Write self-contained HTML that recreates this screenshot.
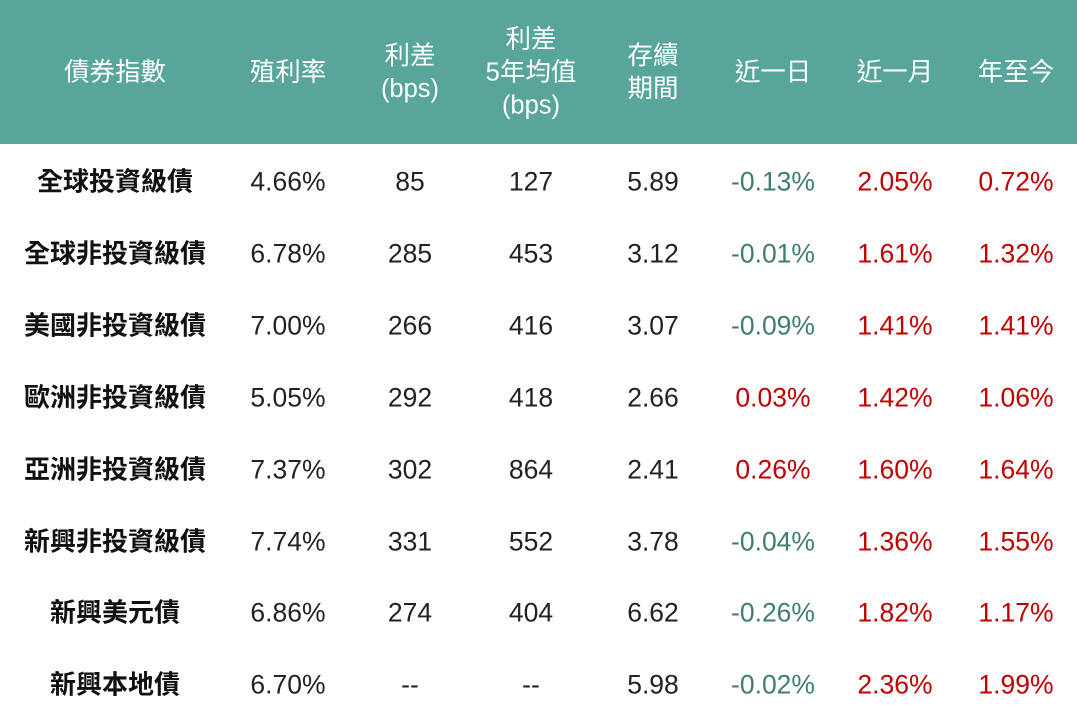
<!DOCTYPE html>
<html><head><meta charset="utf-8"><style>
body{margin:0;width:1077px;height:718px;background:#fff;position:relative;overflow:hidden;font-family:"Liberation Sans","Noto Sans CJK TC",sans-serif}
.h{position:absolute;left:0;top:0;width:1077px;height:144px;background:#58a59b}
.t{position:absolute;transform:translate(-50%,-50%);white-space:nowrap;text-align:center}
.hd{color:#fff;font-size:25.5px;line-height:33px}
.c{font-size:26.5px;color:#222}
.n{font-weight:bold;font-size:26px;color:#111}
.g{color:#3f7d72}.r{color:#c00000}
</style></head><body><div class="h"></div>
<div class="t hd" style="left:115px;top:73px">債券指數</div>
<div class="t hd" style="left:288px;top:73px">殖利率</div>
<div class="t hd" style="left:410px;top:73px">利差<br>(bps)</div>
<div class="t hd" style="left:531px;top:73px">利差<br>5年均值<br>(bps)</div>
<div class="t hd" style="left:653px;top:73px">存續<br>期間</div>
<div class="t hd" style="left:773px;top:73px">近一日</div>
<div class="t hd" style="left:895px;top:73px">近一月</div>
<div class="t hd" style="left:1016px;top:73px">年至今</div>
<script>
var d=[["全球投資級債","4.66%","85","127","5.89","-0.13%","2.05%","0.72%"],
["全球非投資級債","6.78%","285","453","3.12","-0.01%","1.61%","1.32%"],
["美國非投資級債","7.00%","266","416","3.07","-0.09%","1.41%","1.41%"],
["歐洲非投資級債","5.05%","292","418","2.66","0.03%","1.42%","1.06%"],
["亞洲非投資級債","7.37%","302","864","2.41","0.26%","1.60%","1.64%"],
["新興非投資級債","7.74%","331","552","3.78","-0.04%","1.36%","1.55%"],
["新興美元債","6.86%","274","404","6.62","-0.26%","1.82%","1.17%"],
["新興本地債","6.70%","--","--","5.98","-0.02%","2.36%","1.99%"]];
var xs=[115,288,410,531,653,773,895,1016],h="";
d.forEach(function(r,i){var y=181+i*71.9;r.forEach(function(v,j){var cl=j==0?"n":"c";if(j>=5)cl+=v[0]=="-"?" g":" r";h+='<div class="t '+cl+'" style="left:'+xs[j]+'px;top:'+(y+(j==0?-1:1))+'px">'+v+'</div>';});});
document.write(h);
</script>
</body></html>
